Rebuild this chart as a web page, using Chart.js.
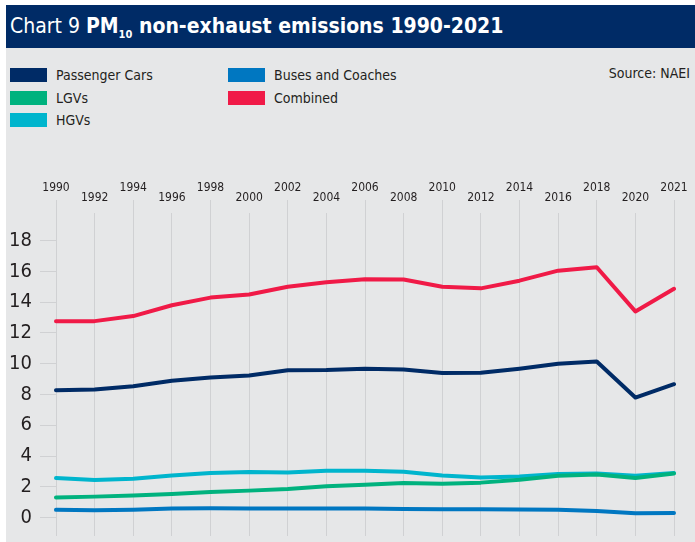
<!DOCTYPE html>
<html>
<head>
<meta charset="utf-8">
<script src="https://cdn.jsdelivr.net/npm/chart.js@4/dist/chart.umd.min.js"></script>
<style>
  body { margin: 0; background: #fff; font-family: 'Liberation Sans Narrow', 'DejaVu Sans Condensed', sans-serif; }
  #wrap { position: relative; width: 695px; height: 542px; overflow: hidden; }
  .title { position: absolute; left: 6px; top: 5px; width: 689px; height: 43px; background: #002b66; color: #fff;
           font-size: 21px; line-height: 43px; padding-left: 4px; box-sizing: border-box; white-space: nowrap; }
  .title sub { font-size: 11px; line-height: 0; }
  .panel { position: absolute; left: 6px; top: 48px; width: 689px; height: 494px; background: #e6e7e8; }
  .item { position: absolute; font-size: 14px; color: #231f20; line-height: 16px; white-space: nowrap; padding-left: 46px; }
  .item span { position: absolute; left: 0; top: 1px; width: 37px; height: 14px; }
  .source { position: absolute; right: 5px; top: 65px; font-size: 14px; color: #231f20; }
  #chartBox { position: absolute; left: 6px; top: 140px; width: 689px; height: 402px; }
</style>
</head>
<body>
<div id="wrap">
  <div class="title">Chart 9 <b>PM<sub>10</sub> non-exhaust emissions 1990-2021</b></div>
  <div class="panel"></div>
  <div id="legend"></div>
  <div class="source">Source: NAEI</div>
  <div id="chartBox"><canvas id="chart"></canvas></div>
</div>
<script>
// Years shown on the axis (every other year, then 2021)
const years = ['1990', '1992', '1994', '1996', '1998', '2000', '2002', '2004', '2006',
               '2008', '2010', '2012', '2014', '2016', '2018', '2020', '2021'];
const yTicks = [0, 2, 4, 6, 8, 10, 12, 14, 16, 18];

// PM10 non-exhaust emissions (kilotonnes)
const passengerCars = [8.28, 8.33, 8.54, 8.9, 9.1, 9.24, 9.58, 9.6, 9.68, 9.62, 9.4, 9.41, 9.68, 10.0, 10.15, 7.8, 8.67];
const lgvs          = [1.31, 1.36, 1.44, 1.53, 1.66, 1.75, 1.86, 2.03, 2.14, 2.24, 2.2, 2.27, 2.46, 2.72, 2.8, 2.57, 2.87];
const hgvs          = [2.57, 2.44, 2.52, 2.74, 2.89, 2.96, 2.93, 3.04, 3.04, 2.98, 2.74, 2.61, 2.67, 2.83, 2.87, 2.72, 2.89];
const buses         = [0.5, 0.47, 0.5, 0.58, 0.6, 0.58, 0.58, 0.58, 0.58, 0.56, 0.54, 0.54, 0.52, 0.5, 0.43, 0.28, 0.3];
const combined      = [12.77, 12.77, 13.1, 13.8, 14.3, 14.5, 15.0, 15.3, 15.5, 15.48, 15.0, 14.9, 15.4, 16.05, 16.27, 13.4, 14.87];

const series = [
  { label: 'Passenger Cars', data: passengerCars, color: '#002b66', x: 10, y: 67 },
  { label: 'LGVs', data: lgvs, color: '#00b27e', x: 10, y: 90 },
  { label: 'HGVs', data: hgvs, color: '#00b5cd', x: 10, y: 112 },
  { label: 'Buses and Coaches', data: buses, color: '#0077c1', x: 228, y: 67 },
  { label: 'Combined', data: combined, color: '#f01a47', x: 228, y: 90 }
];

// HTML legend, two columns
const legend = document.getElementById('legend');
series.forEach(s => {
  const div = document.createElement('div');
  div.className = 'item';
  div.style.left = s.x + 'px';
  div.style.top = s.y + 'px';
  div.innerHTML = `<span style="background:${s.color}"></span>${s.label}`;
  legend.appendChild(div);
});

const fontFamily = "'Liberation Sans Narrow', 'DejaVu Sans Condensed', sans-serif";
const gridColor = '#d0d1d3';

new Chart(document.getElementById('chart'), {
  type: 'line',
  data: {
    // staggered labels: even index on the upper line, odd on the lower
    labels: years.map((y, i) => i % 2 === 0 ? [y, ''] : ['', y]),
    datasets: series.map(s => ({
      label: s.label,
      data: s.data,
      borderColor: s.color,
      backgroundColor: s.color,
      borderWidth: 4,
      pointRadius: 0,
      tension: 0,
      borderCapStyle: 'round',
      borderJoinStyle: 'round'
    }))
  },
  options: {
    responsive: true,
    maintainAspectRatio: false,
    animation: false,
    layout: { padding: { top: 0, right: 21, bottom: 6, left: 0 } },
    plugins: { legend: { display: false }, tooltip: { enabled: false } },
    scales: {
      x: {
        position: 'top',
        offset: false,
        border: { display: false },
        grid: {
          color: gridColor,
          lineWidth: 1,
          tickLength: 13,
          tickColor: ctx => ctx.index % 2 === 0 ? gridColor : 'rgba(0,0,0,0)'
        },
        ticks: {
          color: '#231f20',
          maxRotation: 0,
          autoSkip: false,
          padding: -3,
          font: { family: fontFamily, size: 12, lineHeight: '10px' }
        },
        afterFit: scale => { scale.height = 73; }
      },
      y: {
        min: -1.2,
        max: 19.8,
        border: { display: false },
        grid: { drawOnChartArea: false, tickLength: 16, color: gridColor },
        ticks: {
          color: '#231f20',
          padding: 8,
          font: { family: fontFamily, size: 20 }
        },
        afterBuildTicks: scale => { scale.ticks = yTicks.map(v => ({ value: v })); },
        afterFit: scale => {
          scale.width = 50;
          scale.paddingTop = 0;
          scale.paddingBottom = 0;
        }
      }
    }
  }
});
</script>
</body>
</html>
